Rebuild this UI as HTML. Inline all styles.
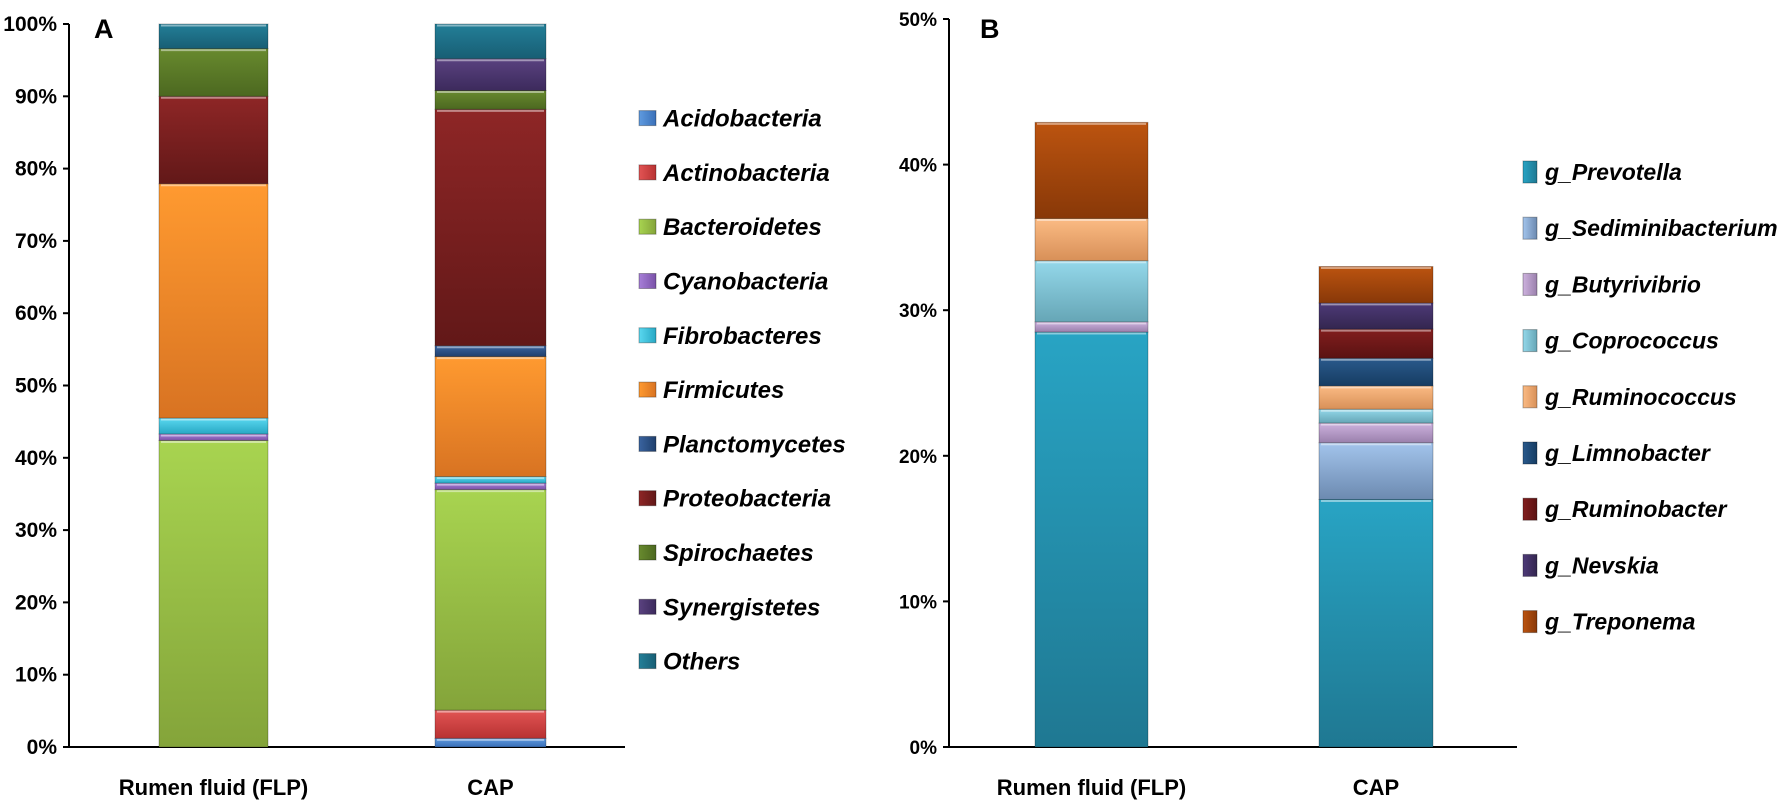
<!DOCTYPE html>
<html><head><meta charset="utf-8"><style>
html,body{margin:0;padding:0;background:#fff;}
svg{display:block;font-family:"Liberation Sans",sans-serif;}
</style></head><body>
<svg id="chart" width="1784" height="807" viewBox="0 0 1784 807" xmlns="http://www.w3.org/2000/svg">
<defs id="defs"></defs>
<text x="94" y="38" font-size="27" font-weight="bold" fill="#000">A</text>
<text x="980" y="38" font-size="27" font-weight="bold" fill="#000">B</text>
</svg>
<script>
// ---- Panel A data ----
const catsA = ["Rumen fluid (FLP)", "CAP"];
const phylaA = ["Acidobacteria","Actinobacteria","Bacteroidetes","Cyanobacteria","Fibrobacteres","Firmicutes","Planctomycetes","Proteobacteria","Spirochaetes","Synergistetes","Others"];
const flpA = [0, 0, 42.4, 0.9, 2.2, 32.4, 0, 12.1, 6.6, 0, 3.4];
const capA = [1.2, 3.9, 30.5, 0.9, 0.9, 16.6, 1.5, 32.7, 2.6, 4.4, 4.8];
const ticksA = [0,10,20,30,40,50,60,70,80,90,100];
// ---- Panel B data ----
const catsB = ["Rumen fluid (FLP)", "CAP"];
const generaB = ["g_Prevotella","g_Sediminibacterium","g_Butyrivibrio","g_Coprococcus","g_Ruminococcus","g_Limnobacter","g_Ruminobacter","g_Nevskia","g_Treponema"];
const flpB = [28.5, 0, 0.7, 4.2, 2.9, 0, 0, 0, 6.6];
const capB = [17.0, 3.9, 1.35, 0.95, 1.6, 1.9, 2.0, 1.8, 2.5];
const ticksB = [0,10,20,30,40,50];

const colA = [["#5f9be0","#3a70b8"],["#e25454","#b83232"],["#a8d450","#84a43a"],["#a77fd8","#7a52a8"],["#5ad8f0","#28a8c4"],["#ff9a30","#d87322"],["#3a64a0","#1f3f6c"],["#8e2626","#621818"],["#688a2e","#4c6820"],["#5a4280","#3c2a5c"],["#237f98","#185e74"]];
const colB = [["#28a4c4","#1f7892"],["#a3c4ec","#6c8ab0"],["#cdb2de","#9a80ac"],["#94d8ea","#66a6b6"],["#fbbb84","#d89058"],["#2a5a8c","#163c62"],["#821e1e","#5a1212"],["#4e3a78","#33264f"],["#bc5410","#883808"]];

const NS="http://www.w3.org/2000/svg";
const svg=document.getElementById('chart');
const defs=document.getElementById('defs');
function mk(tag,attrs,parent){const e=document.createElementNS(NS,tag);for(const k in attrs)e.setAttribute(k,attrs[k]);(parent||svg).appendChild(e);return e;}
function grad(id,c){const g=mk('linearGradient',{id:id,x1:0,y1:0,x2:0,y2:1},defs);mk('stop',{offset:'0','stop-color':c[0]},g);mk('stop',{offset:'1','stop-color':c[1]},g);}
colA.forEach((c,i)=>grad('gA'+i,c));
colB.forEach((c,i)=>grad('gB'+i,c));
function lgrad(id,c){const g=mk('linearGradient',{id:id,x1:0,y1:0,x2:1,y2:0},defs);mk('stop',{offset:'0','stop-color':c[0]},g);mk('stop',{offset:'1','stop-color':c[1]},g);}
colA.forEach((c,i)=>lgrad('lA'+i,c));
colB.forEach((c,i)=>lgrad('lB'+i,c));

const A={x0:69,x1:625,y0:747,yTop:24,max:100};
const yA=v=>A.y0-(v/A.max)*(A.y0-A.yTop);
const barA=[{x:159,w:109},{x:435,w:111}];
const B={x0:949,x1:1517,y0:747,yTop:19,max:50};
const yB=v=>B.y0-(v/B.max)*(B.y0-B.yTop);
const barB=[{x:1035,w:113},{x:1319,w:114}];

function drawAxis(P,yf,ticks,prefix){
  let l=mk('line',{x1:P.x0,y1:P.yTop,x2:P.x0,y2:P.y0,stroke:'#000','stroke-width':2});
  
  
  l=mk('line',{x1:P.x0,y1:P.y0,x2:P.x1,y2:P.y0,stroke:'#000','stroke-width':2});
  
  
  ticks.forEach(t=>{
    const y=yf(t);
    const tk=mk('line',{x1:P.x0-6,y1:y,x2:P.x0,y2:y,stroke:'#000','stroke-width':2});
    
    
    const tx=mk('text',{x:P.x0-12,y:y+7,'text-anchor':'end','font-size':P.fs,'font-weight':'bold',fill:'#000'});
    tx.textContent=t+'%';
    
    
  });
}
A.fs=21;B.fs=19;
drawAxis(A,yA,ticksA,'panel-a');
drawAxis(B,yB,ticksB,'panel-b');

function drawStack(vals,bar,yf,gp,names,prefix){
  let cum=0;
  vals.forEach((v,i)=>{
    if(v<=0){return;}
    const yt=yf(cum+v), yb=yf(cum);
    const r=mk('rect',{x:bar.x,y:yt,width:bar.w,height:yb-yt,fill:'url(#'+gp+i+')',stroke:'rgba(0,0,0,0.25)','stroke-width':1});
    
    
    const hl=mk('line',{x1:bar.x+2,y1:yt+1.5,x2:bar.x+bar.w-2,y2:yt+1.5,stroke:'rgba(255,255,255,0.45)','stroke-width':2});
    
    
    cum+=v;
  });
}
drawStack(flpA,barA[0],yA,'gA',phylaA,'bar-a-flp');
drawStack(capA,barA[1],yA,'gA',phylaA,'bar-a-cap');
drawStack(flpB,barB[0],yB,'gB',generaB,'bar-b-flp');
drawStack(capB,barB[1],yB,'gB',generaB,'bar-b-cap');

function catLabels(cats,bars,prefix){
  cats.forEach((c,i)=>{
    const t=mk('text',{x:bars[i].x+bars[i].w/2,y:795,'text-anchor':'middle','font-size':22,'font-weight':'bold',fill:'#000'});
    t.textContent=c;
    
    
  });
}
catLabels(catsA,barA,'panel-a');
catLabels(catsB,barB,'panel-b');

phylaA.forEach((n,i)=>{
  const cy=118.6+i*54.3;
  const s=mk('rect',{x:639,y:cy-8,width:17,height:15,fill:'url(#lA'+i+')',stroke:'rgba(0,0,0,0.3)','stroke-width':1});
  
  
  const t=mk('text',{x:663,y:cy+8,'font-size':24,'font-weight':'bold','font-style':'italic',fill:'#000'});
  t.textContent=n;
  
  
});
generaB.forEach((n,i)=>{
  const cy=172+i*56.2;
  const s=mk('rect',{x:1523,y:cy-11,width:14,height:22,fill:'url(#lB'+i+')',stroke:'rgba(0,0,0,0.3)','stroke-width':1});
  
  
  const t=mk('text',{x:1545,y:cy+8,'font-size':23,'font-weight':'bold','font-style':'italic',fill:'#000'});
  t.textContent=n;
  
  
});
</script>
</body></html>
